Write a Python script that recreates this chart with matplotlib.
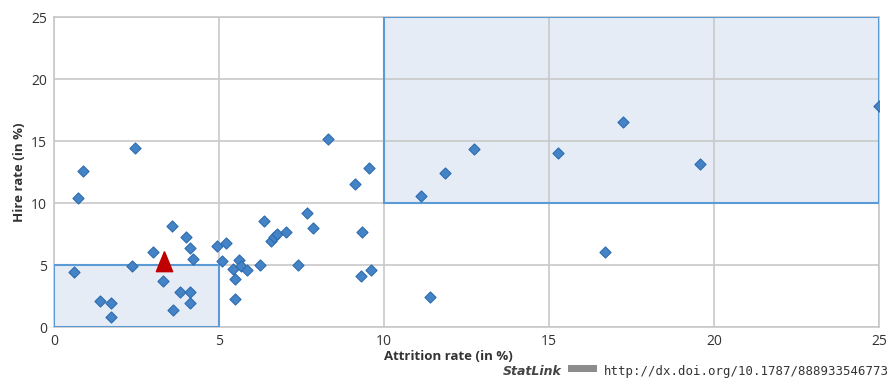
import numpy as np
import matplotlib
matplotlib.use("Agg")
import matplotlib.pyplot as plt
from matplotlib.patches import Rectangle

plt.rcParams['font.family'] = ['Open Sans', 'DejaVu Sans']

# attrition rate (x) and hire rate (y), in %
attrition = [0.62, 0.73, 0.89, 1.39, 1.72, 1.73, 2.35, 2.45, 3.01, 3.31,
             3.57, 3.62, 3.82, 3.99, 4.12, 4.12, 4.12, 4.22, 4.93, 5.10,
             5.21, 5.43, 5.48, 5.48, 5.60, 5.66, 5.84, 6.25, 6.37, 6.57,
             6.67, 6.75, 7.02, 7.39, 7.67, 7.86, 8.29, 9.11, 9.29, 9.34,
             9.55, 9.62, 11.13, 11.40, 11.86, 12.74, 15.28, 16.69, 17.23, 19.58,
             25.0]
hire = [4.4, 10.4, 12.6, 2.07, 1.9, 0.83, 4.95, 14.4, 6.02, 3.7,
        8.15, 1.37, 2.8, 7.28, 6.4, 2.8, 1.9, 5.5, 6.56, 5.35,
        6.75, 4.65, 3.87, 2.23, 5.4, 4.95, 4.6, 5.0, 8.55, 6.9,
        7.25, 7.47, 7.63, 5.0, 9.22, 8.0, 15.16, 11.53, 4.11, 7.63,
        12.8, 4.6, 10.59, 2.42, 12.42, 14.38, 14.0, 6.02, 16.56, 13.15,
        17.85]

# highlighted country
mark_x, mark_y = 3.33, 5.2

# shaded zones: (x0, y0, width, height)
zones = [(0, 0, 5, 5), (10, 10, 15, 15)]

ticks = [0, 5, 10, 15, 20, 25]

fig = plt.figure(figsize=(8.89, 3.85), dpi=100)
ax = fig.add_axes([0.0607, 0.1506, 0.9281, 0.8052])

for x0, y0, w, h in zones:
    # fill under the grid, outline on top of it
    ax.add_patch(Rectangle((x0, y0), w, h, facecolor='#E6ECF6',
                           edgecolor='none', zorder=0.2))
    ax.add_patch(Rectangle((x0, y0), w, h, facecolor='none',
                           edgecolor='#5B9BD5', lw=1.5, zorder=2))

ax.scatter(attrition, hire, marker='D', s=32, color='#4383C6',
           edgecolor='#2E6CB0', linewidth=0.8, zorder=3)

tri = [(0, 1.45), (-1, -1), (1, -1), (0, 1.45)]
ax.scatter([mark_x], [mark_y], marker=tri, s=290, color='#C00000',
           zorder=4)

ax.set_xlim(0, 25)
ax.set_ylim(0, 25)
ax.set_xticks(ticks)
ax.set_yticks(ticks)
ax.grid(True, color='#C8C8C8', lw=1.2, zorder=0.5)
ax.set_axisbelow(True)
for s in ax.spines.values():
    s.set_color('#C8C8C8')
    s.set_linewidth(1.2)
    s.set_zorder(0.5)
ax.tick_params(length=0, labelsize=10, colors='#333333', pad=5)

ax.set_xlabel('Attrition rate (in %)', fontsize=9.5, fontweight='bold',
              color='#333333')
ax.xaxis.set_label_coords(0.4776, -0.075)
ax.set_ylabel('Hire rate (in %)', fontsize=9.5, fontweight='bold',
              color='#333333')
ax.yaxis.set_label_coords(-0.034, 0.5)

fig.text(0.566, 0.025, 'StatLink', fontsize=9, fontweight='bold',
         style='italic', color='#444444', family='DejaVu Sans')
fig.patches.append(Rectangle((0.639, 0.035), 0.032, 0.018,
                             transform=fig.transFigure, figure=fig,
                             facecolor='#8C8C8C', edgecolor='none'))
fig.text(0.679, 0.025, 'http://dx.doi.org/10.1787/888933546773', fontsize=8.9,
         family='DejaVu Sans Mono', color='#333333')

fig.savefig('out.png', dpi=100)
